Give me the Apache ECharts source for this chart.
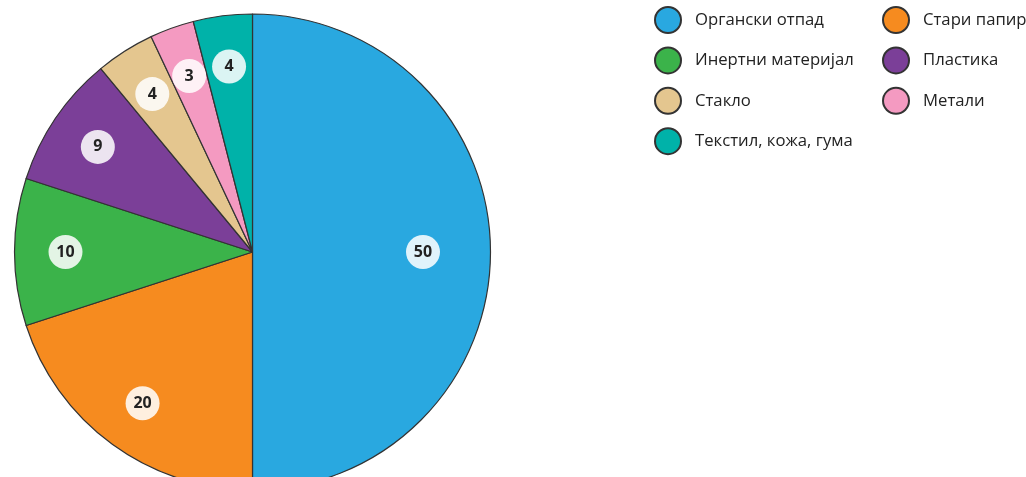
<!DOCTYPE html>
<html>
<head>
<meta charset="utf-8">
<script src="https://cdn.jsdelivr.net/npm/echarts@6/dist/echarts.min.js"></script>
<style>
html,body{margin:0;padding:0;background:#fff;}
#chart{width:1026px;height:477px;}
</style>
</head>
<body>
<div id="chart"></div>
<script>
const categories = ['Органски отпад', 'Стари папир', 'Инертни материјал', 'Пластика', 'Стакло', 'Метали', 'Текстил, кожа, гума'];
const values = [50, 20, 10, 9, 4, 3, 4];
const colors = ['#29a8e0', '#f68b1f', '#3bb34a', '#7b3f98', '#e4c68f', '#f49ac1', '#00b2a9'];
const legendCol1 = ['Органски отпад', 'Инертни материјал', 'Стакло', 'Текстил, кожа, гума'];
const legendCol2 = ['Стари папир', 'Пластика', 'Метали'];

const data = categories.map((c, i) => ({ name: c, value: values[i], itemStyle: { color: colors[i] } }));

const CX = 252.5, CY = 252, R = 238;

const labelStyle = {
  show: true,
  position: 'inside',
  formatter: '{c}',
  color: '#222',
  fontFamily: 'Open Sans',
  fontWeight: 'bold',
  fontSize: 16,
  backgroundColor: 'rgba(255,255,255,0.86)',
  width: 34,
  height: 34,
  lineHeight: 34,
  align: 'center',
  verticalAlign: 'middle',
  borderRadius: 17
};

function overlay(inner, showFn) {
  return {
    type: 'pie',
    silent: true,
    center: [CX, CY],
    radius: [inner, R],
    z: 5,
    legendHoverLink: false,
    itemStyle: { color: 'rgba(0,0,0,0)', borderWidth: 0 },
    emphasis: { disabled: true },
    labelLine: { show: false },
    data: categories.map((c, i) => ({
      name: c + ' ',
      value: values[i],
      label: Object.assign({}, labelStyle, { show: showFn(i) })
    }))
  };
}

const legendBase = {
  orient: 'vertical',
  icon: 'circle',
  itemWidth: 26,
  itemHeight: 26,
  itemGap: 12.4,
  top: 1,
  selectedMode: false,
  textStyle: {
    fontFamily: 'Open Sans',
    fontSize: 16.7,
    color: '#222',
    padding: [0, 0, 0, 9]
  }
};

const chart = echarts.init(document.getElementById('chart'), null, { renderer: 'canvas' });
chart.setOption({
  animation: false,
  legend: [
    Object.assign({}, legendBase, { left: 649, data: legendCol1 }),
    Object.assign({}, legendBase, { left: 877, data: legendCol2 })
  ],
  series: [
    {
      type: 'pie',
      center: [CX, CY],
      radius: [0, R],
      startAngle: 90,
      clockwise: true,
      itemStyle: { borderColor: '#333', borderWidth: 1.2 },
      label: { show: false },
      labelLine: { show: false },
      emphasis: { disabled: true },
      data: data
    },
    overlay(130, i => i !== 0),
    overlay(97, i => i === 0)
  ]
});
</script>
</body>
</html>
